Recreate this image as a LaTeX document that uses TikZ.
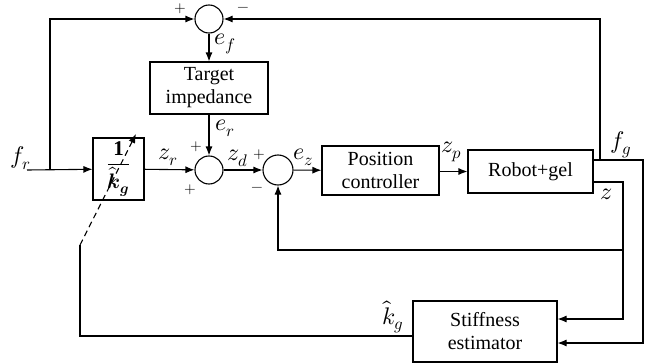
\documentclass[tikz,border=0pt]{standalone}
\usepackage{fontspec}
\setmainfont{Liberation Serif}
\usepackage{unicode-math}
\setmathfont{Latin Modern Math}
\usetikzlibrary{arrows.meta,calc,positioning}

\tikzset{
  blk/.style={draw, rectangle, align=center, inner sep=0pt},
  sumc/.style={draw, circle, inner sep=0pt, minimum size=28pt},
  sgn/.style={inner sep=0pt, font=\fontsize{15}{15}\selectfont},
  mlab/.style={inner sep=0pt, font=\fontsize{24}{24}\selectfont},
}

\begin{document}
\begin{tikzpicture}[x=1pt,y=-1pt,line width=1.1pt,>={Latex[length=9pt,width=7pt]},
  font=\fontsize{20}{23}\selectfont]
\useasboundingbox (0,0) rectangle (657,364);
% blocks
\node[sumc] (sumF) at (209,19) {};
\node[blk, minimum width=118pt, minimum height=52pt] (target) at (209,88) {Target\\impedance};
\node[sumc] (sumR) at (209,170) {};
\node[blk, minimum width=51pt, minimum height=62pt, font=\fontsize{21}{21}\selectfont] (gain) at (118.5,169)
  {$\displaystyle\frac{\mathbf{1}}{\hat{\symbfit{k}}_{\symbfit{g}}}$};
\node[sumc, minimum size=30pt] (sumZ) at (278,170) {};
\node[blk, minimum width=117pt, minimum height=49pt] (posctrl) at (380.5,170.5) {Position\\controller};
\node[blk, minimum width=125pt, minimum height=43pt] (robot) at (530.5,171.5) {Robot+gel};
\node[blk, minimum width=144pt, minimum height=61pt] (stiff) at (485,331.5) {Stiffness\\estimator};
% points on the lines
\coordinate (frin) at (27,170);
\coordinate (split) at (50,170);
\coordinate (fg) at (600,160);
\coordinate (fgc) at (643,343);
\coordinate (zo) at (593,182);
\coordinate (zc) at (623,319);
\coordinate (zb) at (623,250);
\coordinate (kc) at (80,336);
\coordinate (kd) at (80,245);
\coordinate (ka) at (136,134);
% connectors
\draw[->] (frin) -- (gain);
\draw[->] (split) |- (sumF.west);
\draw[->] (fg) |- (sumF.east);
\draw[->] (sumF) -- (target);
\draw[->] (target) -- (sumR);
\draw[->] (gain) -- (sumR);
\draw[->] (sumR) -- (sumZ);
\draw[->] (sumZ) -- (posctrl);
\draw[->] (posctrl.east |- robot) -- (robot.west);
\draw[->] (robot.east |- fg) -- (fg) -| (fgc) -- (fgc -| stiff.east);
\draw[->] (zo) -| (zc) -- (zc -| stiff.east);
\draw[->] (zb) -| (sumZ.south);
\draw (stiff.west |- kc) -- (kc) -- (kd);
\draw[dashed, dash pattern=on 6pt off 4pt, ->] (kd) -- (ka);
% labels
\node[sgn] (pF) at (180,9) {$+$};
\node[sgn] (mF) at (243,9) {$-$};
\node[mlab] (ef) at (225,44) {$e_f$};
\node[mlab] (er) at (225,128) {$e_r$};
\node[mlab] (fr) at (21,158) {$f_r$};
\node[mlab] (zr) at (168,157) {$z_r$};
\node[sgn] (pR1) at (196,147) {$+$};
\node[sgn] (pR2) at (190,190) {$+$};
\node[mlab] (zd) at (238,158) {$z_d$};
\node[sgn] (pZ) at (259,155) {$+$};
\node[sgn] (mZ) at (257,189) {$-$};
\node[mlab] (ez) at (303,157) {$e_z$};
\node[mlab] (zp) at (452,152) {$z_p$};
\node[mlab] (fglab) at (621,145) {$f_g$};
\node[mlab] (zlab) at (606,194) {$z$};
\node[mlab] (kg) at (393,317) {$\hat{k}_g$};
\end{tikzpicture}
\end{document}
